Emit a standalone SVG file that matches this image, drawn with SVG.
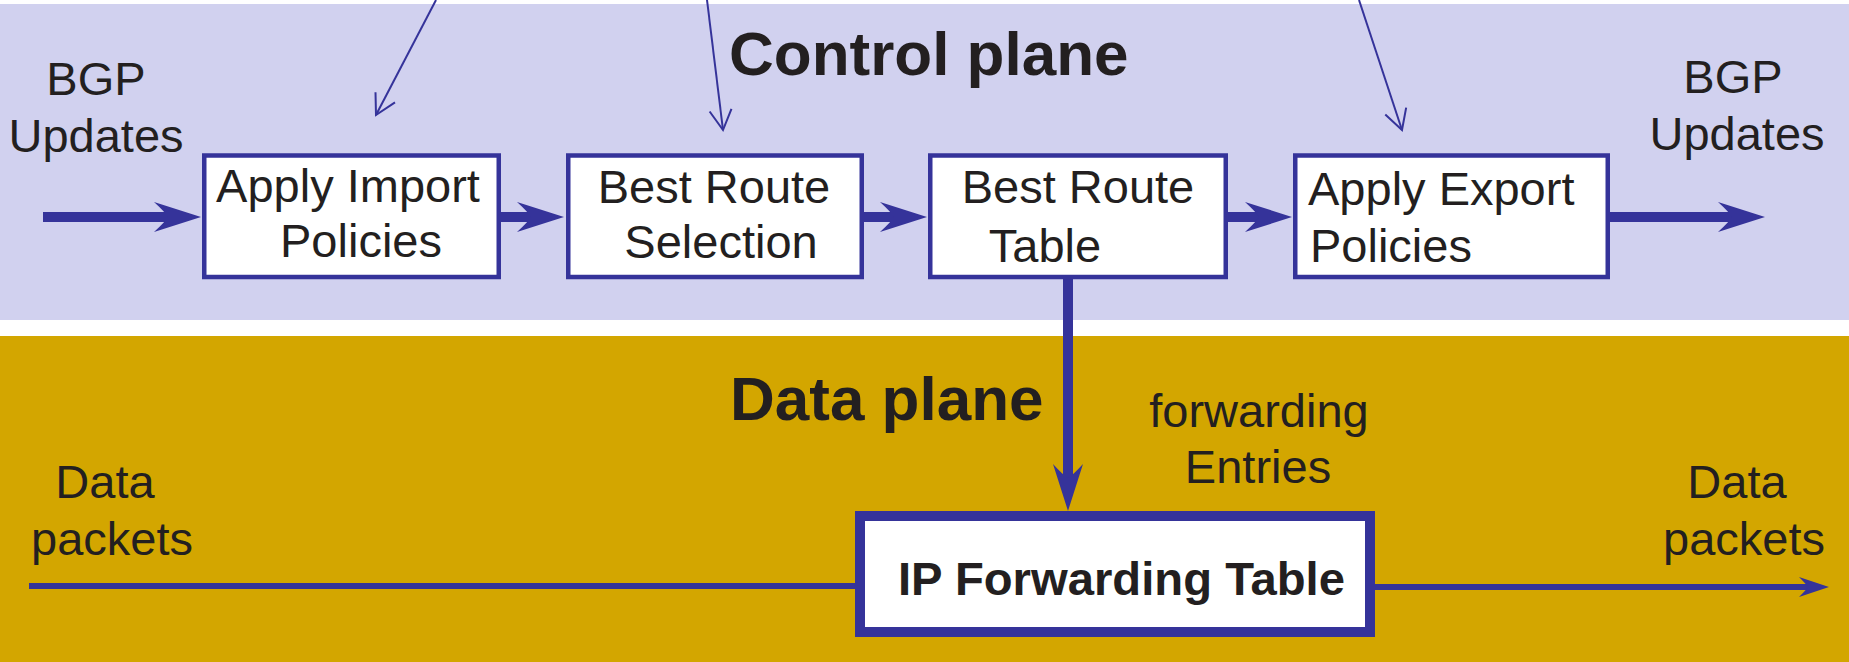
<svg xmlns="http://www.w3.org/2000/svg" width="1849" height="662" viewBox="0 0 1849 662">
<style>
.t{font-family:"Liberation Sans",Arial,sans-serif;font-size:47px;fill:#231f20}
.b{font-family:"Liberation Sans",Arial,sans-serif;font-weight:bold;fill:#231f20}
.box{fill:#fff;stroke:#35339a;stroke-width:4.5}
.thick{stroke:#35339a;stroke-width:10;fill:none}
.thin{stroke:#35339a;stroke-width:6;fill:none}
.pol{stroke:#35339a;stroke-width:2;fill:none}
</style>
<defs>
<marker id="big" markerUnits="userSpaceOnUse" viewBox="-47 -15 47 30" refX="-33" refY="0" markerWidth="47" markerHeight="30" orient="auto" overflow="visible">
<path d="M0,0 L-47,-15 Q-36,-5 -33,0 Q-36,5 -47,15 Z" fill="#35339a"/>
</marker>
<marker id="small" markerUnits="userSpaceOnUse" viewBox="-30 -10 30 20" refX="-21" refY="0" markerWidth="30" markerHeight="20" orient="auto" overflow="visible">
<path d="M0,0 L-30,-10 Q-23,-3 -21,0 Q-23,3 -30,10 Z" fill="#35339a"/>
</marker>
<marker id="open" markerUnits="userSpaceOnUse" viewBox="-20 -12 20 24" refX="0" refY="0" markerWidth="20" markerHeight="24" orient="auto" overflow="visible">
<path d="M-20,-11 L0,0 L-20,11" fill="none" stroke="#35339a" stroke-width="2"/>
</marker>
</defs>
<rect x="0" y="0" width="1849" height="662" fill="#fff"/>
<rect id="control-plane" x="0" y="4" width="1849" height="316" fill="#d1d1ef"/>
<rect id="data-plane" x="0" y="336" width="1849" height="326" fill="#d3a600"/>
<text class="b" x="729" y="75" font-size="62">Control plane</text>
<text class="b" x="730" y="420" font-size="62">Data plane</text>
<g id="labels">
<text class="t" x="96" y="95" text-anchor="middle">BGP</text>
<text class="t" x="96" y="152" text-anchor="middle">Updates</text>
<text class="t" x="1733" y="93" text-anchor="middle">BGP</text>
<text class="t" x="1737" y="150" text-anchor="middle">Updates</text>
<text class="t" x="1259" y="427" text-anchor="middle">forwarding</text>
<text class="t" x="1258" y="483" text-anchor="middle">Entries</text>
<text class="t" x="105" y="498" text-anchor="middle">Data</text>
<text class="t" x="112" y="555" text-anchor="middle">packets</text>
<text class="t" x="1737" y="498" text-anchor="middle">Data</text>
<text class="t" x="1744" y="555" text-anchor="middle">packets</text>
</g>
<g id="connectors">
<line class="thick" x1="43" y1="217" x2="168" y2="217" marker-end="url(#big)"/>
<line class="thick" x1="501" y1="217" x2="531" y2="217" marker-end="url(#big)"/>
<line class="thick" x1="864" y1="217" x2="894" y2="217" marker-end="url(#big)"/>
<line class="thick" x1="1228" y1="217" x2="1259" y2="217" marker-end="url(#big)"/>
<line class="thick" x1="1610" y1="217" x2="1732" y2="217" marker-end="url(#big)"/>
<line class="thick" x1="1068" y1="279" x2="1068" y2="478" marker-end="url(#big)"/>
<line class="thin" x1="29" y1="586" x2="855" y2="586"/>
<line class="thin" x1="1375" y1="587" x2="1808" y2="587" marker-end="url(#small)"/>
<line class="pol" x1="436" y1="0" x2="376" y2="115" marker-end="url(#open)"/>
<line class="pol" x1="707" y1="0" x2="723" y2="130" marker-end="url(#open)"/>
<line class="pol" x1="1359" y1="0" x2="1402" y2="130" marker-end="url(#open)"/>
</g>
<g id="import">
<rect class="box" x="204.25" y="155.5" width="294.5" height="121.5"/>
<text class="t" x="348" y="202" text-anchor="middle">Apply Import</text>
<text class="t" x="361" y="257" text-anchor="middle">Policies</text>
</g>
<g id="selection">
<rect class="box" x="568.25" y="155.5" width="293.5" height="121.5"/>
<text class="t" x="714" y="203" text-anchor="middle">Best Route</text>
<text class="t" x="721" y="258" text-anchor="middle">Selection</text>
</g>
<g id="table">
<rect class="box" x="930.25" y="155.5" width="295.5" height="121.5"/>
<text class="t" x="1078" y="203" text-anchor="middle">Best Route</text>
<text class="t" x="1045" y="262" text-anchor="middle">Table</text>
</g>
<g id="export">
<rect class="box" x="1295.25" y="155.5" width="312.5" height="121.5"/>
<text class="t" x="1308" y="205">Apply Export</text>
<text class="t" x="1310" y="262">Policies</text>
</g>
<g id="fib">
<rect x="860" y="516" width="510" height="116" fill="#fff" stroke="#35339a" stroke-width="10"/>
<text class="b" x="898" y="595" font-size="47" textLength="447" lengthAdjust="spacingAndGlyphs">IP Forwarding Table</text>
</g>
</svg>
